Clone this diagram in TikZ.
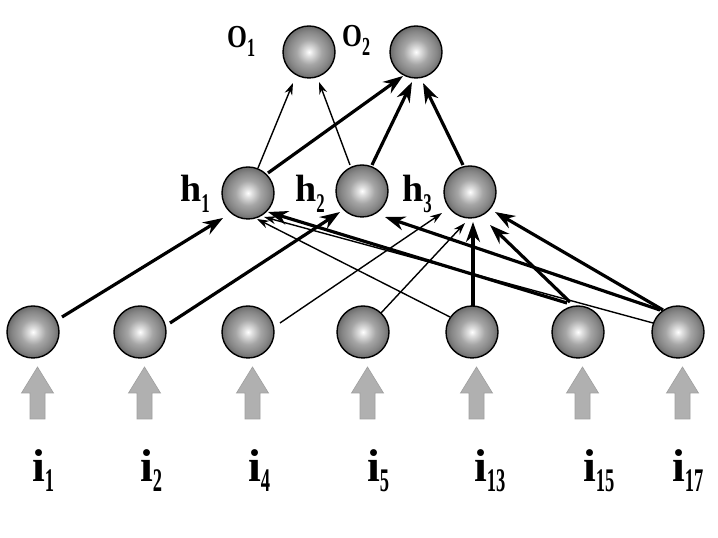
\documentclass[tikz,border=0pt]{standalone}
\usepackage{fontspec}
\setmainfont{Liberation Serif}
\usetikzlibrary{arrows.meta,calc}
\pgfdeclareradialshading{sphere}{\pgfpoint{0bp}{0bp}}{color(0bp)=(white); color(4bp)=(gray!25); color(12bp)=(gray!70); color(20bp)=(gray!95); color(25bp)=(black!58); color(50bp)=(black!58)}
\tikzset{
  neuron/.style={circle, draw=black, line width=1.4pt, minimum size=52pt, inner sep=0pt, shading=sphere},
  thinedge/.style={line width=1.4pt, -{Stealth[length=12pt,width=8pt]}},
  thickedge/.style={line width=3.2pt, -{Stealth[length=20pt,width=14pt]}},
  inarrow/.style={fill=gray!62, draw=gray!75, line width=0.6pt},
  lbl/.style={inner sep=0pt, anchor=base west, font=\bfseries},
}
\newcommand{\mylab}[7]{%
  \scalebox{#2}[1]{\fontsize{#1}{#1}\selectfont\bfseries #3}%
  \raisebox{-#6pt}{\scalebox{#5}[1]{\fontsize{#4}{#4}\selectfont\bfseries #7}}}
\begin{document}
\begin{tikzpicture}[x=1pt,y=1pt]
\fill[white] (0,0) rectangle (718,538);
\useasboundingbox (0,0) rectangle (718,538);
% nodes
\node[neuron] (O1) at (309,486) {};
\node[neuron] (O2) at (416,486) {};
\node[neuron] (h1) at (248,345) {};
\node[neuron] (h2) at (362,347) {};
\node[neuron] (h3) at (470,346) {};
\node[neuron] (i1) at (33,206) {};
\node[neuron] (i2) at (140,206) {};
\node[neuron] (i4) at (248,206) {};
\node[neuron] (i5) at (363,206) {};
\node[neuron] (i13) at (472,206) {};
\node[neuron] (i15) at (578,206) {};
\node[neuron] (i17) at (678,206) {};
% labels
\node[lbl] (lO1) at (227,490) {\mylab{32}{0.8}{O}{26}{0.62}{9}{1}};
\node[lbl] (lO2) at (342,491) {\mylab{32}{0.8}{O}{26}{0.62}{9}{2}};
\node[lbl] (lh1) at (180,336) {\mylab{38}{1}{h}{27}{0.62}{11}{1}};
\node[lbl] (lh2) at (295,336) {\mylab{38}{1}{h}{27}{0.62}{11}{2}};
\node[lbl] (lh3) at (402,336) {\mylab{38}{1}{h}{27}{0.62}{11}{3}};
\node[lbl] (li1) at (32,56) {\mylab{46}{1}{i}{33}{0.56}{10}{1}};
\node[lbl] (li2) at (140,56) {\mylab{46}{1}{i}{33}{0.56}{10}{2}};
\node[lbl] (li4) at (248,56) {\mylab{46}{1}{i}{33}{0.56}{10}{4}};
\node[lbl] (li5) at (367,56) {\mylab{46}{1}{i}{33}{0.56}{10}{5}};
\node[lbl] (li13) at (474,56) {\mylab{46}{1}{i}{33}{0.56}{10}{13}};
\node[lbl] (li15) at (583,56) {\mylab{46}{1}{i}{33}{0.56}{10}{15}};
\node[lbl] (li17) at (672,56) {\mylab{46}{1}{i}{33}{0.56}{10}{17}};
% gray input arrows
\foreach \n in {i1,i2,i4,i5,i13,i15,i17}
  \draw[inarrow] ($(\n)+(4.5,-35)$) -- ++(16,-26) -- ++(-8.5,0) -- ++(0,-26) -- ++(-15,0) -- ++(0,26) -- ++(-8.5,0) -- cycle;
% hidden -> output
\draw[thinedge] ($(h1)+(10,25)$) -- ($(O1)+(-16,-31)$);
\draw[thinedge] ($(h2)+(-12,26)$) -- ($(O1)+(10,-30)$);
\draw[thickedge] ($(h1)+(20,20)$) -- ($(O2)+(-13,-24)$);
\draw[thickedge] ($(h2)+(10,26)$) -- ($(O2)+(-4,-30)$);
\draw[thickedge] ($(h3)+(-7,27)$) -- ($(O2)+(7,-31)$);
% input -> hidden
\draw[thickedge] ($(i1)+(29,15)$) -- ($(h1)+(-25,-25)$);
\draw[thickedge] ($(i2)+(30,9)$) -- ($(h2)+(-22,-21)$);
\draw[thinedge] ($(i4)+(32,9)$) -- ($(h3)+(-28,-21)$);
\draw[thinedge] ($(i5)+(18,19)$) -- ($(h3)+(-5,-31)$);
\draw[thickedge] ($(i13)+(1,26)$) -- ($(h3)+(3,-30)$);
\draw[thickedge] ($(i15)+(-8,30)$) -- ($(h3)+(20,-33)$);
\draw[thickedge] ($(i17)+(-15,22)$) -- ($(h3)+(25,-20)$);
\draw[thickedge] ($(i17)+(-18,22)$) -- ($(h2)+(23,-26)$);
\draw[thickedge] ($(i15)+(-11,29)$) -- ($(h1)+(20,-19)$);
\draw[thinedge] ($(i17)+(-25,9)$) -- ($(h1)+(16,-24)$);
\draw[thinedge] ($(i13)+(-22,15)$) -- ($(h1)+(9,-26)$);
\end{tikzpicture}
\end{document}
